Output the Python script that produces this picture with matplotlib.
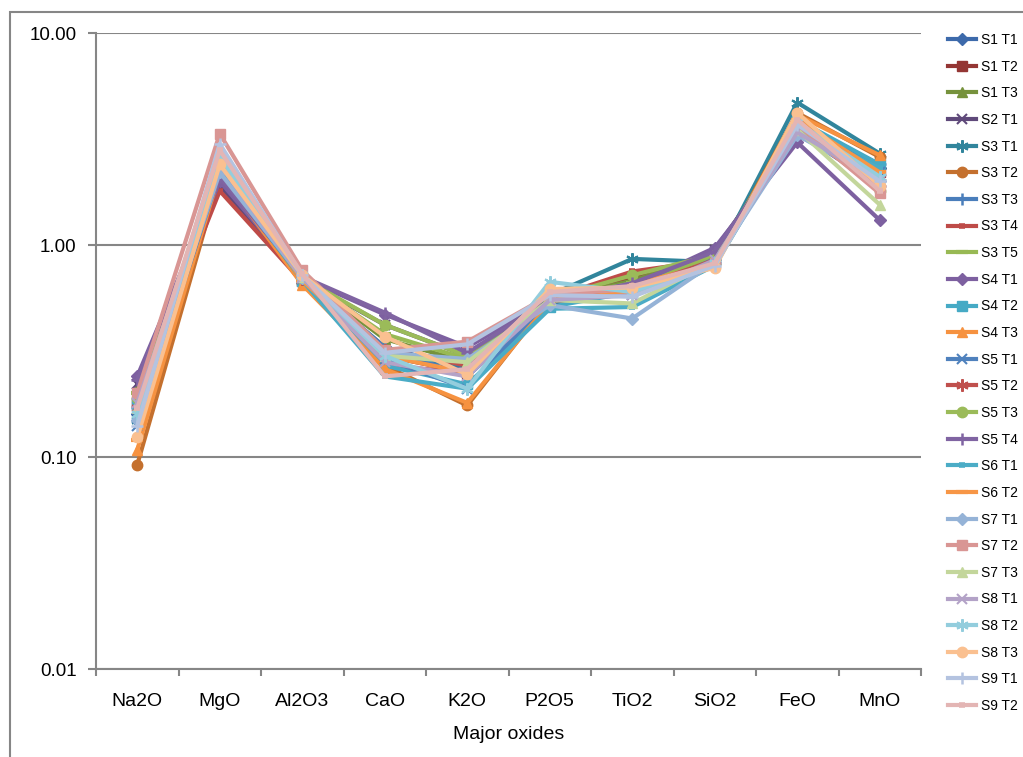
import matplotlib.pyplot as plt
from matplotlib.patches import Rectangle
from matplotlib.ticker import FixedLocator, NullLocator

plt.rcParams['font.family'] = ['Liberation Sans', 'DejaVu Sans']

oxides = ["Na2O", "MgO", "Al2O3", "CaO", "K2O", "P2O5", "TiO2", "SiO2", "FeO", "MnO"]

names = ["S1 T1", "S1 T2", "S1 T3", "S2 T1", "S3 T1", "S3 T2", "S3 T3", "S3 T4", "S3 T5",
         "S4 T1", "S4 T2", "S4 T3", "S5 T1", "S5 T2", "S5 T3", "S5 T4", "S6 T1", "S6 T2",
         "S7 T1", "S7 T2", "S7 T3", "S8 T1", "S8 T2", "S8 T3", "S9 T1", "S9 T2"]

s1t1 = [0.16, 2.3, 0.70, 0.33, 0.26, 0.55, 0.62, 0.88, 3.6, 2.3]
s1t2 = [0.18, 2.0, 0.68, 0.30, 0.25, 0.57, 0.70, 0.90, 3.5, 2.2]
s1t3 = [0.21, 2.2, 0.70, 0.36, 0.28, 0.55, 0.68, 0.90, 3.8, 2.0]
s2t1 = [0.22, 1.9, 0.69, 0.42, 0.30, 0.53, 0.60, 0.95, 3.3, 2.1]
s3t1 = [0.15, 2.4, 0.68, 0.30, 0.27, 0.58, 0.86, 0.83, 4.7, 2.7]
s3t2 = [0.092, 2.1, 0.66, 0.27, 0.175, 0.55, 0.62, 0.82, 4.2, 2.6]
s3t3 = [0.17, 2.3, 0.70, 0.33, 0.24, 0.54, 0.62, 0.86, 3.7, 2.4]
s3t4 = [0.19, 1.8, 0.67, 0.27, 0.25, 0.56, 0.75, 0.85, 3.4, 2.0]
s3t5 = [0.20, 2.2, 0.70, 0.38, 0.29, 0.56, 0.66, 0.88, 3.6, 1.9]
s4t1 = [0.24, 2.0, 0.70, 0.47, 0.33, 0.55, 0.64, 0.97, 3.05, 1.31]
s4t2 = [0.18, 2.4, 0.68, 0.27, 0.22, 0.51, 0.60, 0.85, 3.9, 2.4]
s4t3 = [0.108, 2.2, 0.65, 0.26, 0.18, 0.54, 0.65, 0.82, 4.1, 2.65]
s5t1 = [0.14, 2.2, 0.69, 0.29, 0.21, 0.56, 0.58, 0.86, 3.5, 2.2]
s5t2 = [0.17, 2.3, 0.69, 0.32, 0.27, 0.56, 0.62, 0.85, 3.8, 2.1]
s5t3 = [0.19, 2.4, 0.70, 0.42, 0.30, 0.56, 0.72, 0.90, 3.6, 1.8]
s5t4 = [0.23, 2.1, 0.71, 0.48, 0.31, 0.55, 0.66, 0.93, 3.4, 1.9]
s6t1 = [0.16, 2.3, 0.68, 0.24, 0.21, 0.50, 0.51, 0.80, 3.6, 2.3]
s6t2 = [0.12, 2.5, 0.68, 0.30, 0.25, 0.55, 0.60, 0.80, 3.9, 2.2]
s7t1 = [0.15, 2.2, 0.70, 0.31, 0.29, 0.52, 0.45, 0.83, 3.3, 2.0]
s7t2 = [0.20, 3.35, 0.76, 0.32, 0.35, 0.58, 0.62, 0.82, 3.7, 1.75]
s7t3 = [0.17, 2.7, 0.71, 0.30, 0.28, 0.55, 0.53, 0.84, 3.5, 1.55]
s8t1 = [0.18, 2.4, 0.70, 0.28, 0.24, 0.55, 0.58, 0.85, 3.4, 2.0]
s8t2 = [0.16, 2.6, 0.72, 0.30, 0.21, 0.67, 0.60, 0.82, 3.8, 2.1]
s8t3 = [0.124, 2.4, 0.72, 0.37, 0.245, 0.62, 0.63, 0.78, 4.2, 1.9]
s9t1 = [0.14, 3.0, 0.72, 0.31, 0.34, 0.58, 0.57, 0.80, 3.7, 2.0]
s9t2 = [0.17, 2.8, 0.73, 0.24, 0.26, 0.60, 0.64, 0.82, 3.9, 1.8]

series = [s1t1, s1t2, s1t3, s2t1, s3t1, s3t2, s3t3, s3t4, s3t5,
          s4t1, s4t2, s4t3, s5t1, s5t2, s5t3, s5t4, s6t1, s6t2,
          s7t1, s7t2, s7t3, s8t1, s8t2, s8t3, s9t1, s9t2]

colors = ["#3D6AAB", "#943634", "#76923C", "#5F497A", "#31859C", "#C4702E",
          "#4A7EBB", "#BE4B48", "#98B954", "#7D60A0", "#46AAC5", "#F69240",
          "#4F81BD", "#C0504D", "#9BBB59", "#8064A2", "#4BACC6", "#F79646",
          "#95B3D7", "#D99694", "#C3D69B", "#B3A2C7", "#93CDDD", "#FAC090",
          "#B4C3E0", "#E3B5B4"]

# excel style marker cycle: diamond, square, triangle, x, star, circle, plus, short dash, long dash
marker_cycle = [("D", 6, 1), ("s", 7, 1), ("^", 7.5, 1), ("x", 7, 1.5), ((6, 2, 0), 9, 1.5),
                ("o", 7.5, 1), ("+", 9, 1.8), ("_", 5, 4), ("_", 9, 3)]

fig = plt.figure(figsize=(10.23, 7.57), dpi=100)
fig.patches.append(Rectangle((10 / 1023, -0.1), 1.2, 1.1 - 12 / 757, transform=fig.transFigure,
                             fill=False, edgecolor="#868686", linewidth=1.5))
ax = fig.add_axes([96 / 1023, 88 / 757, 825 / 1023, 636 / 757])

x = range(len(oxides))
for i, (name, vals) in enumerate(zip(names, series)):
    m, ms, mew = marker_cycle[i % 9]
    ax.plot(x, vals, color=colors[i], linewidth=3, marker=m, markersize=ms,
            markeredgewidth=mew, markeredgecolor=colors[i], markerfacecolor=colors[i],
            label=name, solid_joinstyle="round")

ax.set_yscale("log")
ax.set_ylim(0.01, 10)
ax.set_xlim(-0.5, 9.5)
ax.yaxis.set_major_locator(FixedLocator([0.01, 0.1, 1, 10]))
ax.yaxis.set_minor_locator(NullLocator())
ax.set_yticklabels(["0.01", "0.10", "1.00", "10.00"], fontsize=13.5)
ax.set_xticks(list(x))
ax.set_xticklabels(oxides, fontsize=14)
ax.set_xticks([i - 0.5 for i in range(len(oxides) + 1)], minor=True)
ax.tick_params(axis="x", which="major", length=0, pad=17)
ax.tick_params(axis="x", which="minor", length=5, width=1.5, color="#868686")
ax.tick_params(axis="y", length=6, width=1.5, color="#868686", pad=8)
ax.set_xlabel("Major oxides", fontsize=14, labelpad=12)

ax.grid(True, axis="y", color="#868686", linewidth=1.5)
ax.set_axisbelow(True)
for side in ["top", "right"]:
    ax.spines[side].set_visible(False)
for side in ["left", "bottom"]:
    ax.spines[side].set_color("#868686")
    ax.spines[side].set_linewidth(1.5)

fig.legend(loc="upper left", bbox_to_anchor=(948 / 1023, 1 - 33 / 757), frameon=False,
           fontsize=10, handlelength=2.0, handletextpad=0.4, labelspacing=0.91,
           borderaxespad=0, borderpad=0)

fig.savefig("out.png", dpi=100)
